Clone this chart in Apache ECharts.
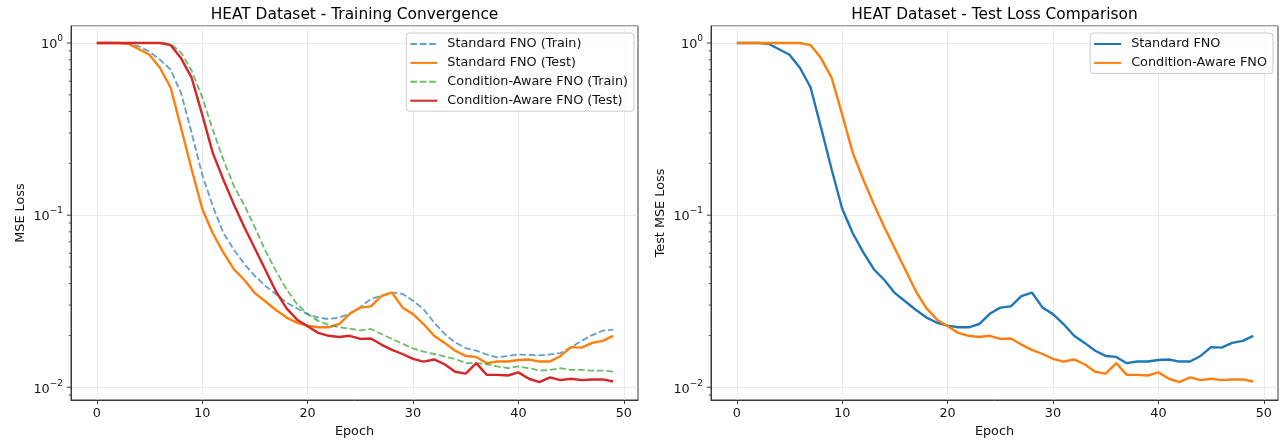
<!DOCTYPE html>
<html>
<head>
<meta charset="utf-8">
<script src="https://cdn.jsdelivr.net/npm/echarts@6/dist/echarts.min.js"></script>
<style>
html,body{margin:0;padding:0;background:#fff;}
#c{width:1283px;height:445px;}
</style>
</head>
<body>
<div id="c"></div>
<script>
const epochs = [0,1,2,3,4,5,6,7,8,9,10,11,12,13,14,15,16,17,18,19,20,21,22,23,24,25,26,27,28,29,30,31,32,33,34,35,36,37,38,39,40,41,42,43,44,45,46,47,48,49];

const stdTrain = [1,1,1,0.99,0.955,0.89,0.80,0.70,0.51,0.30,0.172,0.113,0.079,0.063,0.052,0.0443,0.0388,0.0347,0.0311,0.0287,0.0266,0.0254,0.0249,0.0254,0.0268,0.0292,0.0326,0.034,0.0355,0.0349,0.0318,0.0284,0.0238,0.0204,0.0182,0.0169,0.0163,0.0155,0.0149,0.0152,0.0155,0.0154,0.0153,0.0155,0.0158,0.0171,0.0186,0.0201,0.0213,0.0216];

const stdTest = [1,1,1,0.99,0.92,0.855,0.716,0.552,0.321,0.184,0.109,0.0785,0.0607,0.0485,0.042,0.0352,0.0315,0.0281,0.0254,0.0237,0.0228,0.0223,0.0223,0.0233,0.0267,0.029,0.0295,0.0338,0.0355,0.0291,0.0266,0.0233,0.0199,0.0181,0.0163,0.0152,0.0150,0.0138,0.0141,0.0141,0.0144,0.0145,0.0141,0.0141,0.0152,0.0171,0.0170,0.0181,0.0186,0.0199];

const caTrain = [1,1,1,1,1,1,1,0.99,0.88,0.69,0.485,0.314,0.211,0.148,0.114,0.085,0.062,0.0474,0.0371,0.0304,0.0266,0.0243,0.0230,0.0223,0.0219,0.0214,0.0218,0.0204,0.0191,0.0179,0.0168,0.0161,0.0156,0.0151,0.0146,0.0138,0.0138,0.0136,0.0132,0.0129,0.0132,0.0129,0.0125,0.0126,0.0129,0.0126,0.0126,0.0125,0.0125,0.0123];

const caTest = [1,1,1,1,1,1,1,0.973,0.815,0.627,0.384,0.230,0.161,0.1155,0.085,0.064,0.048,0.036,0.0287,0.0247,0.0226,0.0207,0.0199,0.0196,0.0199,0.0191,0.0192,0.0177,0.0165,0.0156,0.0146,0.0141,0.0145,0.0136,0.0123,0.0120,0.0138,0.0118,0.0118,0.0117,0.0122,0.0112,0.0107,0.0114,0.0110,0.0112,0.0110,0.0111,0.0111,0.0108];

const xTicks = [0,10,20,30,40,50];
const yMajorTicks = [0.01,0.1,1];
const yMinorTicks = [0.009,0.02,0.03,0.04,0.05,0.06,0.07,0.08,0.09,0.2,0.3,0.4,0.5,0.6,0.7,0.8,0.9];

const titles = ['HEAT Dataset - Training Convergence','HEAT Dataset - Test Loss Comparison'];
const leftNames = ['Standard FNO (Train)','Standard FNO (Test)','Condition-Aware FNO (Train)','Condition-Aware FNO (Test)'];
const rightNames = ['Standard FNO','Condition-Aware FNO'];

const C = {blue:'#1f77b4', orange:'#ff7f0e', green:'#2ca02c', red:'#d62728'};
const FONT = 'DejaVu Sans';
const FS = 12.8;
const AX = '#3a3a3a';
const X_MIN = -2.45, X_MAX = 51.35, Y_MIN = 0.00843, Y_MAX = 1.256;

function pairs(arr){ return epochs.map((e,i)=>[e, arr[i]]); }

function yLabel(v){
  const e = Math.round(Math.log10(v));
  return '{b|10}{s|' + (e < 0 ? '\u2212' : '') + Math.abs(e) + '}';
}

function xAxisCfg(gi){
  return {
    type:'value', gridIndex:gi, min:X_MIN, max:X_MAX,
    name:'Epoch', nameLocation:'middle', nameGap:25,
    nameTextStyle:{fontSize:FS, color:'#111', fontFamily:FONT},
    axisLine:{show:true, onZero:false, lineStyle:{color:AX, width:1}},
    axisTick:{show:true, length:4, inside:false, customValues:xTicks, lineStyle:{color:AX, width:1}},
    axisLabel:{show:true, margin:7, fontSize:FS, color:'#111', fontFamily:FONT, customValues:xTicks},
    splitLine:{show:true, lineStyle:{color:'#e4e4e4', width:0.8}},
    minorTick:{show:false}
  };
}
function yAxisCfg(gi, name){
  return {
    type:'log', logBase:10, gridIndex:gi, min:Y_MIN, max:Y_MAX,
    name:name, nameLocation:'middle', nameGap:44, nameRotate:90,
    nameTextStyle:{fontSize:FS, color:'#111', fontFamily:FONT},
    axisLine:{show:true, onZero:false, lineStyle:{color:AX, width:1}},
    axisTick:{show:false},
    minorTick:{show:false},
    axisLabel:{show:true, margin:8, showMinLabel:false, showMaxLabel:false, formatter:yLabel,
      rich:{
        b:{fontSize:FS, color:'#111', fontFamily:FONT, lineHeight:17, verticalAlign:'bottom'},
        s:{fontSize:9, color:'#111', fontFamily:FONT, lineHeight:10, verticalAlign:'top'}
      }},
    splitLine:{show:true, lineStyle:{color:'#e4e4e4', width:0.8}}
  };
}

// y-axis tick marks placed through the axis scale (api.coord)
function tickSeries(gi, values, len, width){
  return {
    type:'custom', xAxisIndex:gi, yAxisIndex:gi, silent:true, clip:false, animation:false, z:5,
    data: values.map(v => [X_MIN, v]),
    renderItem: function(params, api){
      const p = api.coord([api.value(0), api.value(1)]);
      return {type:'line', shape:{x1:p[0]-len, y1:p[1], x2:p[0], y2:p[1]},
        style:{stroke:AX, lineWidth:width}};
    }
  };
}

function solid(name, data, color, gi){
  return {type:'line', name:name, data:pairs(data), xAxisIndex:gi, yAxisIndex:gi,
    symbol:'none', showSymbol:false, animation:false,
    lineStyle:{color:color, width:2.4}, itemStyle:{color:color}};
}
function dashed(name, data, color, gi){
  return {type:'line', name:name, data:pairs(data), xAxisIndex:gi, yAxisIndex:gi,
    symbol:'none', showSymbol:false, animation:false,
    lineStyle:{color:color, width:1.8, type:[6.6,2.85], opacity:0.7}, itemStyle:{color:color, opacity:0.7}};
}

const legendCommon = {
  orient:'vertical', itemWidth:27, itemHeight:12, itemGap:5.9,
  itemStyle:{opacity:0},
  textStyle:{fontSize:FS, color:'#111', fontFamily:FONT, padding:[0,0,0,5]},
  backgroundColor:'rgba(255,255,255,0.8)', borderColor:'#cccccc', borderWidth:1, borderRadius:3,
  padding:[4.5,6,4,3]
};

const chart = echarts.init(document.getElementById('c'), null, {renderer:'canvas'});
chart.setOption({
  animation:false,
  backgroundColor:'#ffffff',
  title:[
    {text:titles[0], left:354.5, top:7.5, textAlign:'center', padding:0,
      textStyle:{fontSize:15.4, fontWeight:'normal', color:'#000', fontFamily:FONT}},
    {text:titles[1], left:994.5, top:7.5, textAlign:'center', padding:0,
      textStyle:{fontSize:15.4, fontWeight:'normal', color:'#000', fontFamily:FONT}}
  ],
  legend:[
    Object.assign({data:leftNames, right:649, top:33}, legendCommon),
    Object.assign({data:rightNames, right:10, top:33}, legendCommon)
  ],
  grid:[
    {left:71, top:26, width:567, height:374, show:true, borderColor:AX, borderWidth:1, backgroundColor:'transparent', containLabel:false, outerBoundsMode:'none'},
    {left:711, top:26, width:567, height:374, show:true, borderColor:AX, borderWidth:1, backgroundColor:'transparent', containLabel:false, outerBoundsMode:'none'}
  ],
  xAxis:[xAxisCfg(0), xAxisCfg(1)],
  yAxis:[yAxisCfg(0,'MSE Loss'), yAxisCfg(1,'Test MSE Loss')],
  series:[
    dashed(leftNames[0], stdTrain, C.blue, 0),
    solid(leftNames[1], stdTest, C.orange, 0),
    dashed(leftNames[2], caTrain, C.green, 0),
    solid(leftNames[3], caTest, C.red, 0),
    solid(rightNames[0], stdTest, C.blue, 1),
    solid(rightNames[1], caTest, C.orange, 1),
    tickSeries(0, yMajorTicks, 4.2, 1),
    tickSeries(0, yMinorTicks, 2.4, 0.8),
    tickSeries(1, yMajorTicks, 4.2, 1),
    tickSeries(1, yMinorTicks, 2.4, 0.8)
  ]
});
</script>
</body>
</html>
